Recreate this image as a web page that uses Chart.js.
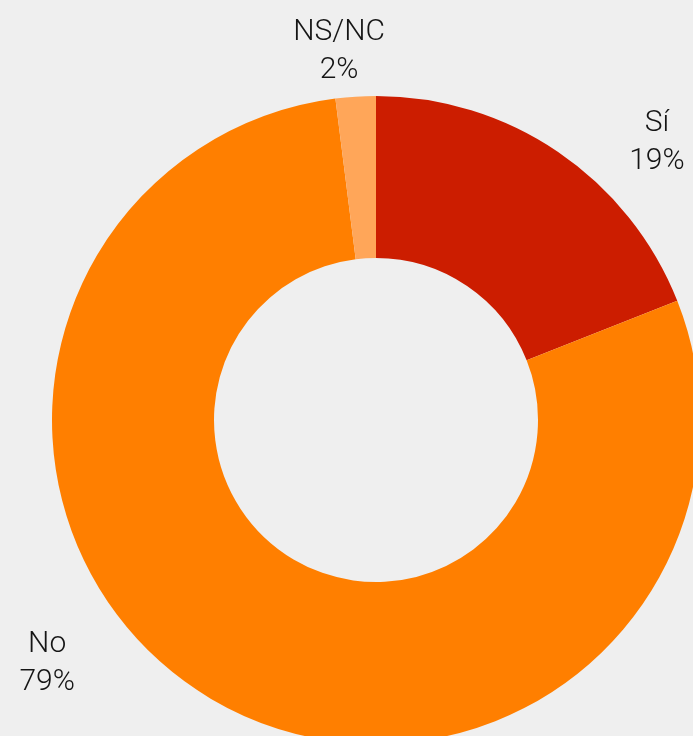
<!DOCTYPE html>
<html>
<head>
<meta charset="utf-8">
<script src="https://cdn.jsdelivr.net/npm/chart.js@4"></script>
<style>
  html, body { margin:0; padding:0; width:693px; height:736px; overflow:hidden; background:#efefef; }
  #wrap { position:absolute; left:0; top:0; width:752px; height:840px; }
</style>
</head>
<body>
<div id="wrap"><canvas id="c"></canvas></div>
<script>
const categories = ["Sí", "No", "NS/NC"];
const values = [19, 79, 2];
const labelsText = ["19%", "79%", "2%"];
const colors = ["#cc1d00", "#ff7f00", "#ffa659"];
// label anchors relative to doughnut center, in units of outer radius
const labelOffsets = [[0.867, -0.858], [-1.015, 0.752], [-0.114, -1.136]];

const labelPlugin = {
  id: 'outerLabels',
  afterDraw(chart) {
    const meta = chart.getDatasetMeta(0);
    const arc = meta.data[0];
    const cx = arc.x, cy = arc.y, R = arc.outerRadius;
    const ctx = chart.ctx;
    ctx.save();
    ctx.fillStyle = '#151515';
    ctx.font = '300 30px "Helvetica Neue", Roboto, "Liberation Sans", sans-serif';
    ctx.textAlign = 'center';
    ctx.textBaseline = 'middle';
    categories.forEach((name, i) => {
      const x = cx + labelOffsets[i][0] * R;
      const y = cy + labelOffsets[i][1] * R;
      ctx.fillText(name, x, y - 19);
      ctx.fillText(labelsText[i], x, y + 19);
    });
    ctx.restore();
  }
};

new Chart(document.getElementById('c'), {
  type: 'doughnut',
  data: {
    labels: categories,
    datasets: [{ data: values, backgroundColor: colors, borderWidth: 0, hoverOffset: 0 }]
  },
  options: {
    responsive: true,
    maintainAspectRatio: false,
    animation: false,
    cutout: '50%',
    layout: { padding: { left: 52, top: 96, right: 52, bottom: 96 } },
    plugins: { legend: { display: false }, tooltip: { enabled: false } }
  },
  plugins: [labelPlugin]
});
</script>
</body>
</html>
